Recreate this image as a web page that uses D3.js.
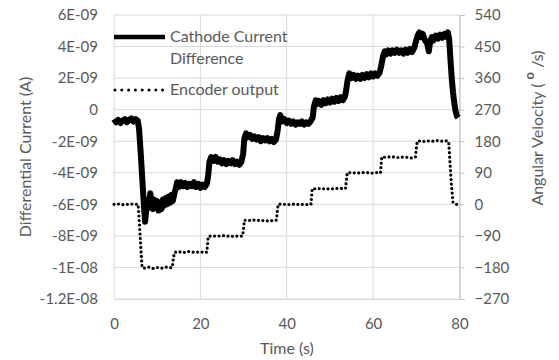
<!DOCTYPE html>
<html><head><meta charset="utf-8">
<script src="https://cdn.jsdelivr.net/npm/d3@7"></script>
<style>
html,body{margin:0;padding:0;background:#fff;}
svg{display:block;font-family:Lato,"Open Sans",sans-serif;}
</style></head>
<body><svg id="c" width="559" height="360"></svg>
<script>
// ---- data ----
const xTicks = [0, 20, 40, 60, 80];
const leftTicks = [6, 4, 2, 0, -2, -4, -6, -8, -10, -12]; // nA
const leftTickLabels = ["6E-09","4E-09","2E-09","0","-2E-09","-4E-09","-6E-09","-8E-09","-1E-08","-1.2E-08"];
const rightTicks = [540, 450, 360, 270, 180, 90, 0, -90, -180, -270];
const seriesNames = ["Cathode Current", "Difference", "Encoder output"];

const currentTime = [0,0.5,1,1.5,2,2.5,3,3.5,4,4.5,5,5.5,5.8,6.2,6.6,7.0,7.2,7.5,7.8,8.1,8.4,8.7,9.0,9.3,9.6,10,10.3,10.6,11,11.3,11.6,12,12.3,12.6,13,13.3,13.6,14,14.3,14.6,15,15.5,16,16.5,17,17.5,18,18.5,19,19.5,20,20.5,21,21.5,21.8,22.1,22.5,23,23.5,24,24.5,25,25.5,26,26.5,27,27.5,28,28.5,29,29.5,29.9,30.2,30.6,31,31.5,32,32.5,33,33.5,34,34.5,35,35.5,36,36.5,37,37.5,37.9,38.2,38.5,39,39.5,40,40.5,41,41.5,42,42.5,43,43.5,44,44.5,45,45.5,46,46.3,46.7,47,47.5,48,48.5,49,49.5,50,50.5,51,51.5,52,52.5,53,53.5,53.8,54.1,54.5,55,55.5,56,56.5,57,57.5,58,58.5,59,59.5,60,60.5,61,61.5,61.9,62.3,62.7,63,63.5,64,64.5,65,65.5,66,66.5,67,67.5,68,68.5,69,69.5,69.9,70.3,70.7,71,71.5,72,72.5,72.9,73.2,73.6,74,74.5,75,75.5,76,76.5,77,77.3,77.6,77.9,78.2,78.5,78.8,79.1,79.4,79.7];
const currentValue = [-0.6,-0.8,-0.65,-0.85,-0.7,-0.6,-0.8,-0.65,-0.55,-0.75,-0.6,-0.7,-1.2,-2.8,-4.6,-6.4,-7.1,-6.3,-5.7,-6.2,-5.3,-5.9,-6.3,-5.7,-6.2,-5.8,-6.4,-5.9,-6.3,-5.7,-6.1,-5.6,-6.0,-5.5,-5.9,-5.4,-5.8,-5.3,-5.0,-4.6,-4.9,-4.6,-4.85,-4.65,-4.9,-4.7,-4.85,-4.6,-4.9,-4.7,-4.95,-4.75,-4.9,-4.7,-4.2,-3.3,-3.0,-3.25,-3.0,-3.3,-3.15,-3.4,-3.2,-3.45,-3.25,-3.4,-3.2,-3.45,-3.3,-3.5,-3.3,-2.8,-1.8,-1.5,-1.75,-1.6,-1.85,-1.7,-1.9,-1.75,-2.0,-1.8,-1.95,-1.8,-2.0,-1.85,-2.05,-1.9,-1.3,-0.6,-0.35,-0.75,-0.6,-0.85,-0.7,-0.9,-0.75,-0.95,-0.8,-0.9,-0.75,-0.95,-0.8,-0.9,-0.75,-0.5,0.2,0.6,0.35,0.55,0.3,0.6,0.4,0.65,0.45,0.7,0.5,0.75,0.55,0.8,0.6,0.85,1.3,1.9,2.3,2.0,2.2,1.95,2.15,1.95,2.2,2.0,2.25,2.05,2.3,2.1,2.3,2.15,2.35,2.8,3.4,3.7,3.5,3.75,3.55,3.75,3.6,3.8,3.6,3.75,3.55,3.8,3.6,3.85,3.65,3.9,4.3,4.7,4.9,4.6,4.8,4.4,4.2,3.7,4.3,4.6,4.4,4.7,4.5,4.75,4.55,4.8,4.6,4.9,4.5,3.2,2.0,1.1,0.4,-0.1,-0.4,-0.5];

const encoderTime = [0,1,2,3,4,5,5.6,5.9,6.2,6.5,7,8,9,10,11,12,13,13.5,13.8,14,15,16,17,18,19,20,21,21.5,21.8,22.5,24,25,26,27,28,29,29.8,30.2,31,32,33,34,35,36,37,37.6,38,39,40,41,42,43,44,45,45.6,45.9,47,48,49,50,51,52,53,53.6,54,55,56,57,58,59,60,61,61.7,62,63,64,65,66,67,68,69,69.8,70.2,71,72,73,74,75,76,77,77.5,77.8,78.1,78.5,79,79.5,80];
const encoderValue = [0,1,-1,0,1,0,0,-60,-120,-180,-182,-179,-183,-180,-182,-179,-181,-180,-150,-137,-135,-138,-134,-136,-137,-135,-138,-136,-92,-90,-91,-89,-90,-92,-90,-91,-90,-45,-47,-44,-46,-45,-48,-46,-47,-45,0,1,-1,0,1,-1,0,-1,0,45,44,46,43,45,44,46,45,45,90,91,89,90,91,90,89,91,90,135,134,136,135,133,135,134,132,135,180,181,179,181,180,182,180,181,178,120,60,5,2,-1,-6];

// ---- layout ----
const svg = d3.select("#c");
const L = 114, R = 459.5, T = 15, B = 299;
const x = d3.scaleLinear().domain([0, 80]).range([L, R]);
const yL = d3.scaleLinear().domain([-12, 6]).range([B, T]);
const yR = d3.scaleLinear().domain([-270, 540]).range([B, T]);
const grid = "#d9d9d9", txt = "#595959";

// grid
svg.append("g").selectAll("line").data(leftTicks).join("line")
  .attr("x1", L).attr("x2", R).attr("y1", d => yL(d)).attr("y2", d => yL(d))
  .attr("stroke", grid).attr("stroke-width", 1);
svg.append("g").selectAll("line").data(xTicks).join("line")
  .attr("x1", d => x(d)).attr("x2", d => x(d)).attr("y1", T).attr("y2", B)
  .attr("stroke", grid).attr("stroke-width", 1);

// axes
const fontSize = 15;
const axL = svg.append("g").attr("transform", `translate(${L},0)`)
  .call(d3.axisLeft(yL).tickValues(leftTicks).tickSize(0).tickPadding(16)
    .tickFormat((d, i) => leftTickLabels[i]));
axL.select(".domain").remove();
const axR = svg.append("g").attr("transform", `translate(${R},0)`)
  .call(d3.axisRight(yR).tickValues(rightTicks).tickSize(5).tickPadding(10).tickFormat(d3.format("d")));
axR.select(".domain").attr("stroke", "#bfbfbf");
axR.selectAll(".tick line").attr("stroke", "#bfbfbf");
const axB = svg.append("g").attr("transform", `translate(0,${B})`)
  .call(d3.axisBottom(x).tickValues(xTicks).tickSize(0).tickPadding(19).tickFormat(d3.format("d")));
axB.select(".domain").attr("stroke", grid);
[axL, axR, axB].forEach(a => a.selectAll("text").attr("fill", txt)
  .style("font-size", fontSize + "px").style("font-family", "Lato, 'Open Sans', sans-serif"));

// titles
svg.append("text").attr("transform", "translate(31,157) rotate(-90)")
  .attr("text-anchor", "middle").attr("fill", txt).style("font-size", "16px")
  .text("Differential Current (A)");
const rt = svg.append("text").attr("transform", "translate(543,128) rotate(-90)")
  .attr("text-anchor", "middle").attr("fill", txt).style("font-size", "16px");
rt.append("tspan").text("Angular Velocity (  ");
rt.append("tspan").attr("dy", -9).style("font-weight", "bold").style("font-size", "13px").text("o");
rt.append("tspan").attr("dy", 9).text("  /s)");
svg.append("text").attr("x", 287).attr("y", 354).attr("text-anchor", "middle")
  .attr("fill", txt).style("font-size", "16px").text("Time (s)");

// series
const curData = currentTime.map((t, i) => [t, currentValue[i]]);
const encData = encoderTime.map((t, i) => [t, encoderValue[i]]);
svg.append("path").datum(encData)
  .attr("d", d3.line().x(d => x(d[0])).y(d => yR(d[1])))
  .attr("fill", "none").attr("stroke", "#000").attr("stroke-width", 3.2)
  .attr("stroke-linecap", "round").attr("stroke-dasharray", "0,4.5");
svg.append("path").datum(curData)
  .attr("d", d3.line().x(d => x(d[0])).y(d => yL(d[1])))
  .attr("fill", "none").attr("stroke", "#000").attr("stroke-width", 6)
  .attr("stroke-linejoin", "round");

// legend
const lg = svg.append("g");
lg.append("line").attr("x1", 114).attr("x2", 165).attr("y1", 37).attr("y2", 37)
  .attr("stroke", "#000").attr("stroke-width", 4.5);
lg.append("text").attr("x", 170).attr("y", 42).attr("fill", txt).style("font-size", "16px").text(seriesNames[0]);
lg.append("text").attr("x", 170).attr("y", 64).attr("fill", txt).style("font-size", "16px").text(seriesNames[1]);
lg.append("line").attr("x1", 115).attr("x2", 163).attr("y1", 90).attr("y2", 90)
  .attr("stroke", "#000").attr("stroke-width", 3).attr("stroke-linecap", "round").attr("stroke-dasharray", "0,6.8");
lg.append("text").attr("x", 170).attr("y", 95).attr("fill", txt).style("font-size", "16px").text(seriesNames[2]);
</script></body></html>
